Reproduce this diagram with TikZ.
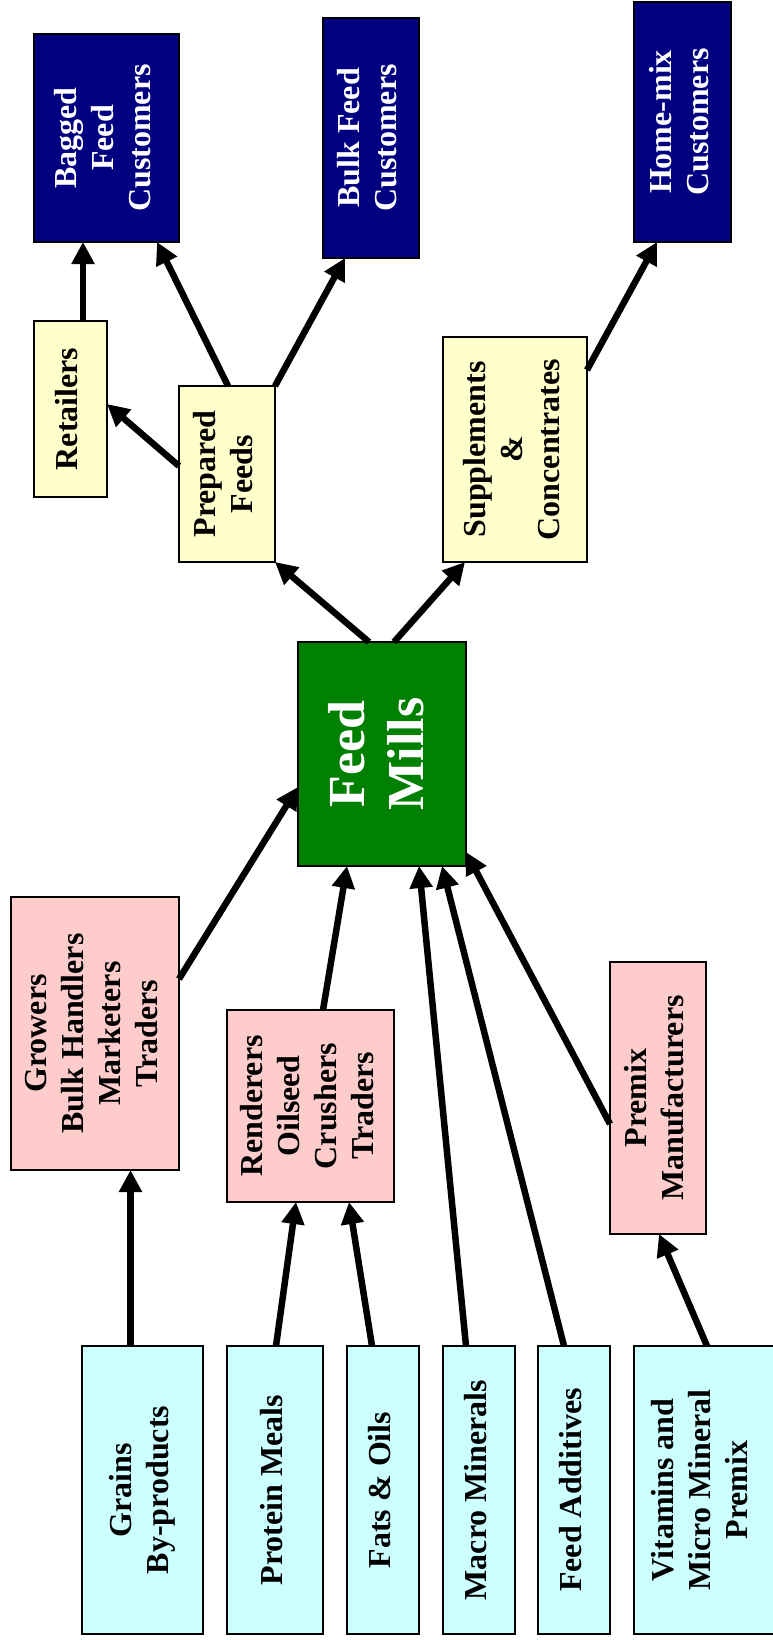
\documentclass[tikz,border=0pt]{standalone}
\usepackage{fontspec}
\setmainfont{Liberation Serif}
\usepackage{graphicx}
\usetikzlibrary{calc,arrows.meta}
\definecolor{navybox}{HTML}{000080}
\definecolor{greenbox}{HTML}{008000}
\definecolor{yellowbox}{HTML}{FFFFCC}
\definecolor{pinkbox}{HTML}{FFCCCC}
\definecolor{cyanbox}{HTML}{CCFFFF}
\newcommand{\vlab}[1]{\rotatebox{90}{\fontsize{32}{37}\selectfont\bfseries\begin{tabular}{@{}c@{}}#1\end{tabular}}}
\newcommand{\bigvlab}[1]{\rotatebox{90}{\fontsize{52}{59}\selectfont\bfseries\begin{tabular}{@{}c@{}}#1\end{tabular}}}
\tikzset{
  boxbase/.style={draw=black, line width=2pt, inner sep=0pt, outer sep=0pt, anchor=north west},
  custbox/.style={boxbase, fill=navybox, text=white},
  prodbox/.style={boxbase, fill=yellowbox, text=black},
  millbox/.style={boxbase, fill=greenbox, text=white},
  handlerbox/.style={boxbase, fill=pinkbox, text=black},
  ingbox/.style={boxbase, fill=cyanbox, text=black},
  flow/.style={line width=6.5pt, -{Triangle[length=22pt,width=22pt]}}
}
\newcommand{\boxat}[7]{\node[#1, minimum width=#5pt-#3pt, minimum height=#6pt-#4pt] (#2) at (#3,#4) {#7};}
\begin{document}
\begin{tikzpicture}[x=1pt,y=-1pt]
\useasboundingbox (0,0) rectangle (773,1640);
% customers
\boxat{custbox}{bag}{34}{34}{179}{242}{\vlab{Bagged\\Feed\\Customers}}
\boxat{custbox}{bulk}{323}{18}{419}{258}{\vlab{Bulk Feed\\Customers}}
\boxat{custbox}{home}{634}{2}{731}{242}{\vlab{Home-mix\\Customers}}
% products
\boxat{prodbox}{ret}{34}{321}{107}{497}{\vlab{Retailers}}
\boxat{prodbox}{prep}{179}{386}{275}{562}{\vlab{Prepared\\Feeds}}
\boxat{prodbox}{supp}{443}{337}{587}{562}{\vlab{Supplements\\\&\\Concentrates}}
% mill
\boxat{millbox}{fm}{298}{642}{466}{866}{\bigvlab{Feed\\Mills}}
% handlers
\boxat{handlerbox}{grow}{11}{897}{179}{1170}{\vlab{Growers\\Bulk Handlers\\Marketers\\Traders}}
\boxat{handlerbox}{rend}{227}{1010}{394}{1202}{\vlab{Renderers\\Oilseed\\Crushers\\Traders}}
\boxat{handlerbox}{pmx}{610}{962}{706}{1234}{\vlab{Premix\\Manufacturers}}
% ingredients
\boxat{ingbox}{grain}{82}{1346}{203}{1634}{\vlab{Grains\\By-products}}
\boxat{ingbox}{prot}{227}{1346}{323}{1634}{\vlab{Protein Meals}}
\boxat{ingbox}{fats}{347}{1346}{419}{1634}{\vlab{Fats \& Oils}}
\boxat{ingbox}{macro}{443}{1346}{515}{1634}{\vlab{Macro Minerals}}
\boxat{ingbox}{addit}{538}{1346}{610}{1634}{\vlab{Feed Additives}}
\boxat{ingbox}{vit}{634}{1346}{776}{1634}{\hspace*{-3pt}\vlab{Vitamins and\\Micro Mineral\\Premix}}
% connectors
\draw[flow] ($(ret.north west)+(49,0)$) -- ($(bag.south west)+(49,0)$);
\draw[flow] ($(prep.north west)+(49,0)$) -- ($(bag.south west)+(123,0)$);
\draw[flow] (prep.north east) -- ($(bulk.south west)+(22,0)$);
\draw[flow] ($(prep.north west)+(0,80)$) -- ($(ret.north east)+(0,83)$);
\draw[flow] ($(supp.north east)+(0,33)$) -- ($(home.south west)+(23,0)$);
\draw[flow] ($(fm.north west)+(71,0)$) -- (prep.south east);
\draw[flow] ($(fm.north west)+(96,0)$) -- ($(supp.south west)+(22,0)$);
\draw[flow] ($(grow.north east)+(0,82)$) -- ($(fm.north west)+(0,145)$);
\draw[flow] ($(rend.north west)+(96,0)$) -- ($(fm.south west)+(49,0)$);
\draw[flow] ($(macro.north west)+(23,0)$) -- ($(fm.south west)+(121,0)$);
\draw[flow] ($(addit.north west)+(26,0)$) -- ($(fm.south west)+(144,0)$);
\draw[flow] ($(pmx.north west)+(0,162)$) -- ($(fm.south east)+(0,-14)$);
\draw[flow] ($(grain.north west)+(48.5,0)$) -- ($(grow.south west)+(119.5,0)$);
\draw[flow] ($(prot.north west)+(49,0)$) -- ($(rend.south west)+(69,0)$);
\draw[flow] ($(fats.north west)+(25,0)$) -- ($(rend.south west)+(122,0)$);
\draw[flow] ($(vit.north west)+(73,0)$) -- ($(pmx.south west)+(49,0)$);
\end{tikzpicture}
\end{document}
